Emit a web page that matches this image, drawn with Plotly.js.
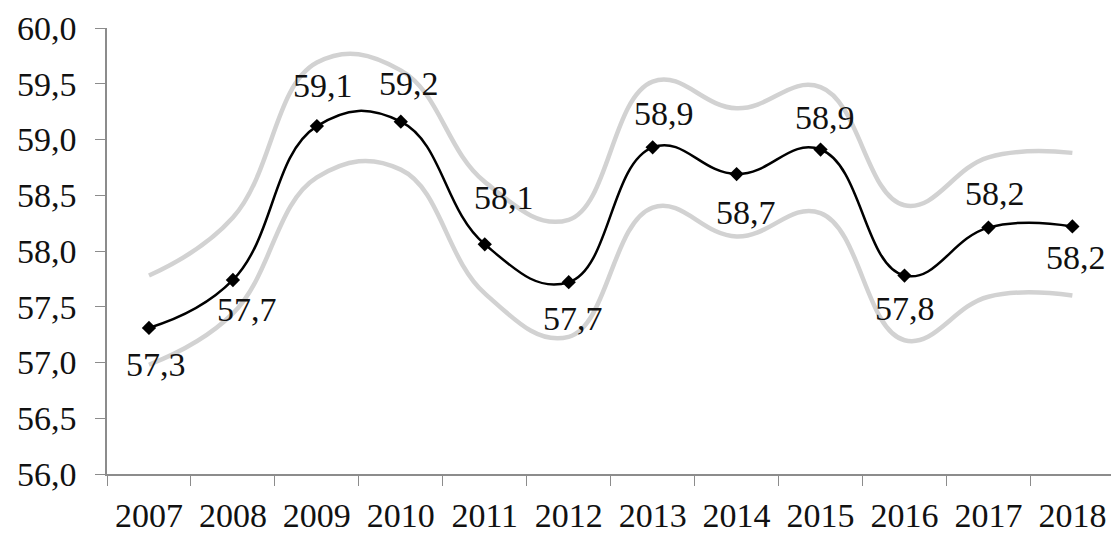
<!DOCTYPE html>
<html>
<head>
<meta charset="utf-8">
<script src="https://cdn.plot.ly/plotly-3.0.1.min.js"></script>
<style>html,body{margin:0;padding:0;background:#fff;}#chart{width:1111px;height:533px;}</style>
</head>
<body>
<div id="chart"></div>
<script>
const years = ['2007','2008','2009','2010','2011','2012','2013','2014','2015','2016','2017','2018'];
const values = [57.31, 57.74, 59.12, 59.16, 58.06, 57.72, 58.93, 58.69, 58.91, 57.78, 58.21, 58.22];
const upperBand = [57.78, 58.30, 59.69, 59.62, 58.62, 58.28, 59.52, 59.28, 59.47, 58.41, 58.84, 58.88];
const lowerBand = [56.98, 57.44, 58.66, 58.73, 57.62, 57.23, 58.39, 58.13, 58.34, 57.20, 57.59, 57.60];
const yTickVals = [56, 56.5, 57, 57.5, 58, 58.5, 59, 59.5, 60];

// label offsets (pixels) relative to each point
const labelDx = [7, 14, 6, 8, 19, 4, 11, 9, 4, 1, 7, 4];
const labelDy = [-37, -30, 41, 38, 47, -36, 34, -38, 32, -33, 34, -31];

const fontFam = 'Liberation Serif, Times New Roman, serif';
const greyLine = {color: '#d2d2d2', width: 4.5, shape: 'spline', smoothing: 1.2};

const traces = [
  {x: years, y: upperBand, type: 'scatter', mode: 'lines', line: greyLine, hoverinfo: 'skip'},
  {x: years, y: lowerBand, type: 'scatter', mode: 'lines', line: greyLine, hoverinfo: 'skip'},
  {x: years, y: values, type: 'scatter', mode: 'lines+markers',
   line: {color: '#000', width: 2.5, shape: 'spline', smoothing: 1.25},
   marker: {symbol: 'diamond', size: 11, color: '#000'}}
];

const fmt = v => v.toFixed(1).replace('.', ',');
const annotations = values.map((v, i) => ({
  x: i, y: v, xref: 'x', yref: 'y', text: fmt(v), showarrow: false,
  xanchor: 'center', yanchor: 'middle',
  xshift: labelDx[i], yshift: labelDy[i],
  font: {family: fontFam, size: 34, color: '#111'}
}));

const layout = {
  width: 1111, height: 533,
  margin: {l: 107, r: 0, t: 28, b: 59},
  paper_bgcolor: '#fff', plot_bgcolor: '#fff',
  showlegend: false,
  separators: ', ',
  font: {family: fontFam, size: 34, color: '#111'},
  xaxis: {
    type: 'category', range: [-0.5, 11.46],
    showgrid: false, zeroline: false,
    showline: true, linecolor: '#8c8c8c', linewidth: 1.5,
    ticks: 'outside', tickson: 'boundaries', ticklen: 10, tickcolor: '#8c8c8c', tickwidth: 1,
    tickfont: {family: fontFam, size: 34, color: '#111'},
    ticklabelstandoff: 10
  },
  yaxis: {
    range: [56, 60], tickvals: yTickVals, tickformat: '.1f',
    showgrid: false, zeroline: false,
    showline: true, linecolor: '#8c8c8c', linewidth: 1.5,
    ticks: 'outside', ticklen: 10, tickcolor: '#8c8c8c', tickwidth: 1,
    tickfont: {family: fontFam, size: 34, color: '#111'},
    ticklabelstandoff: 12
  },
  annotations: annotations
};

Plotly.newPlot('chart', traces, layout, {displayModeBar: false});
</script>
</body>
</html>
